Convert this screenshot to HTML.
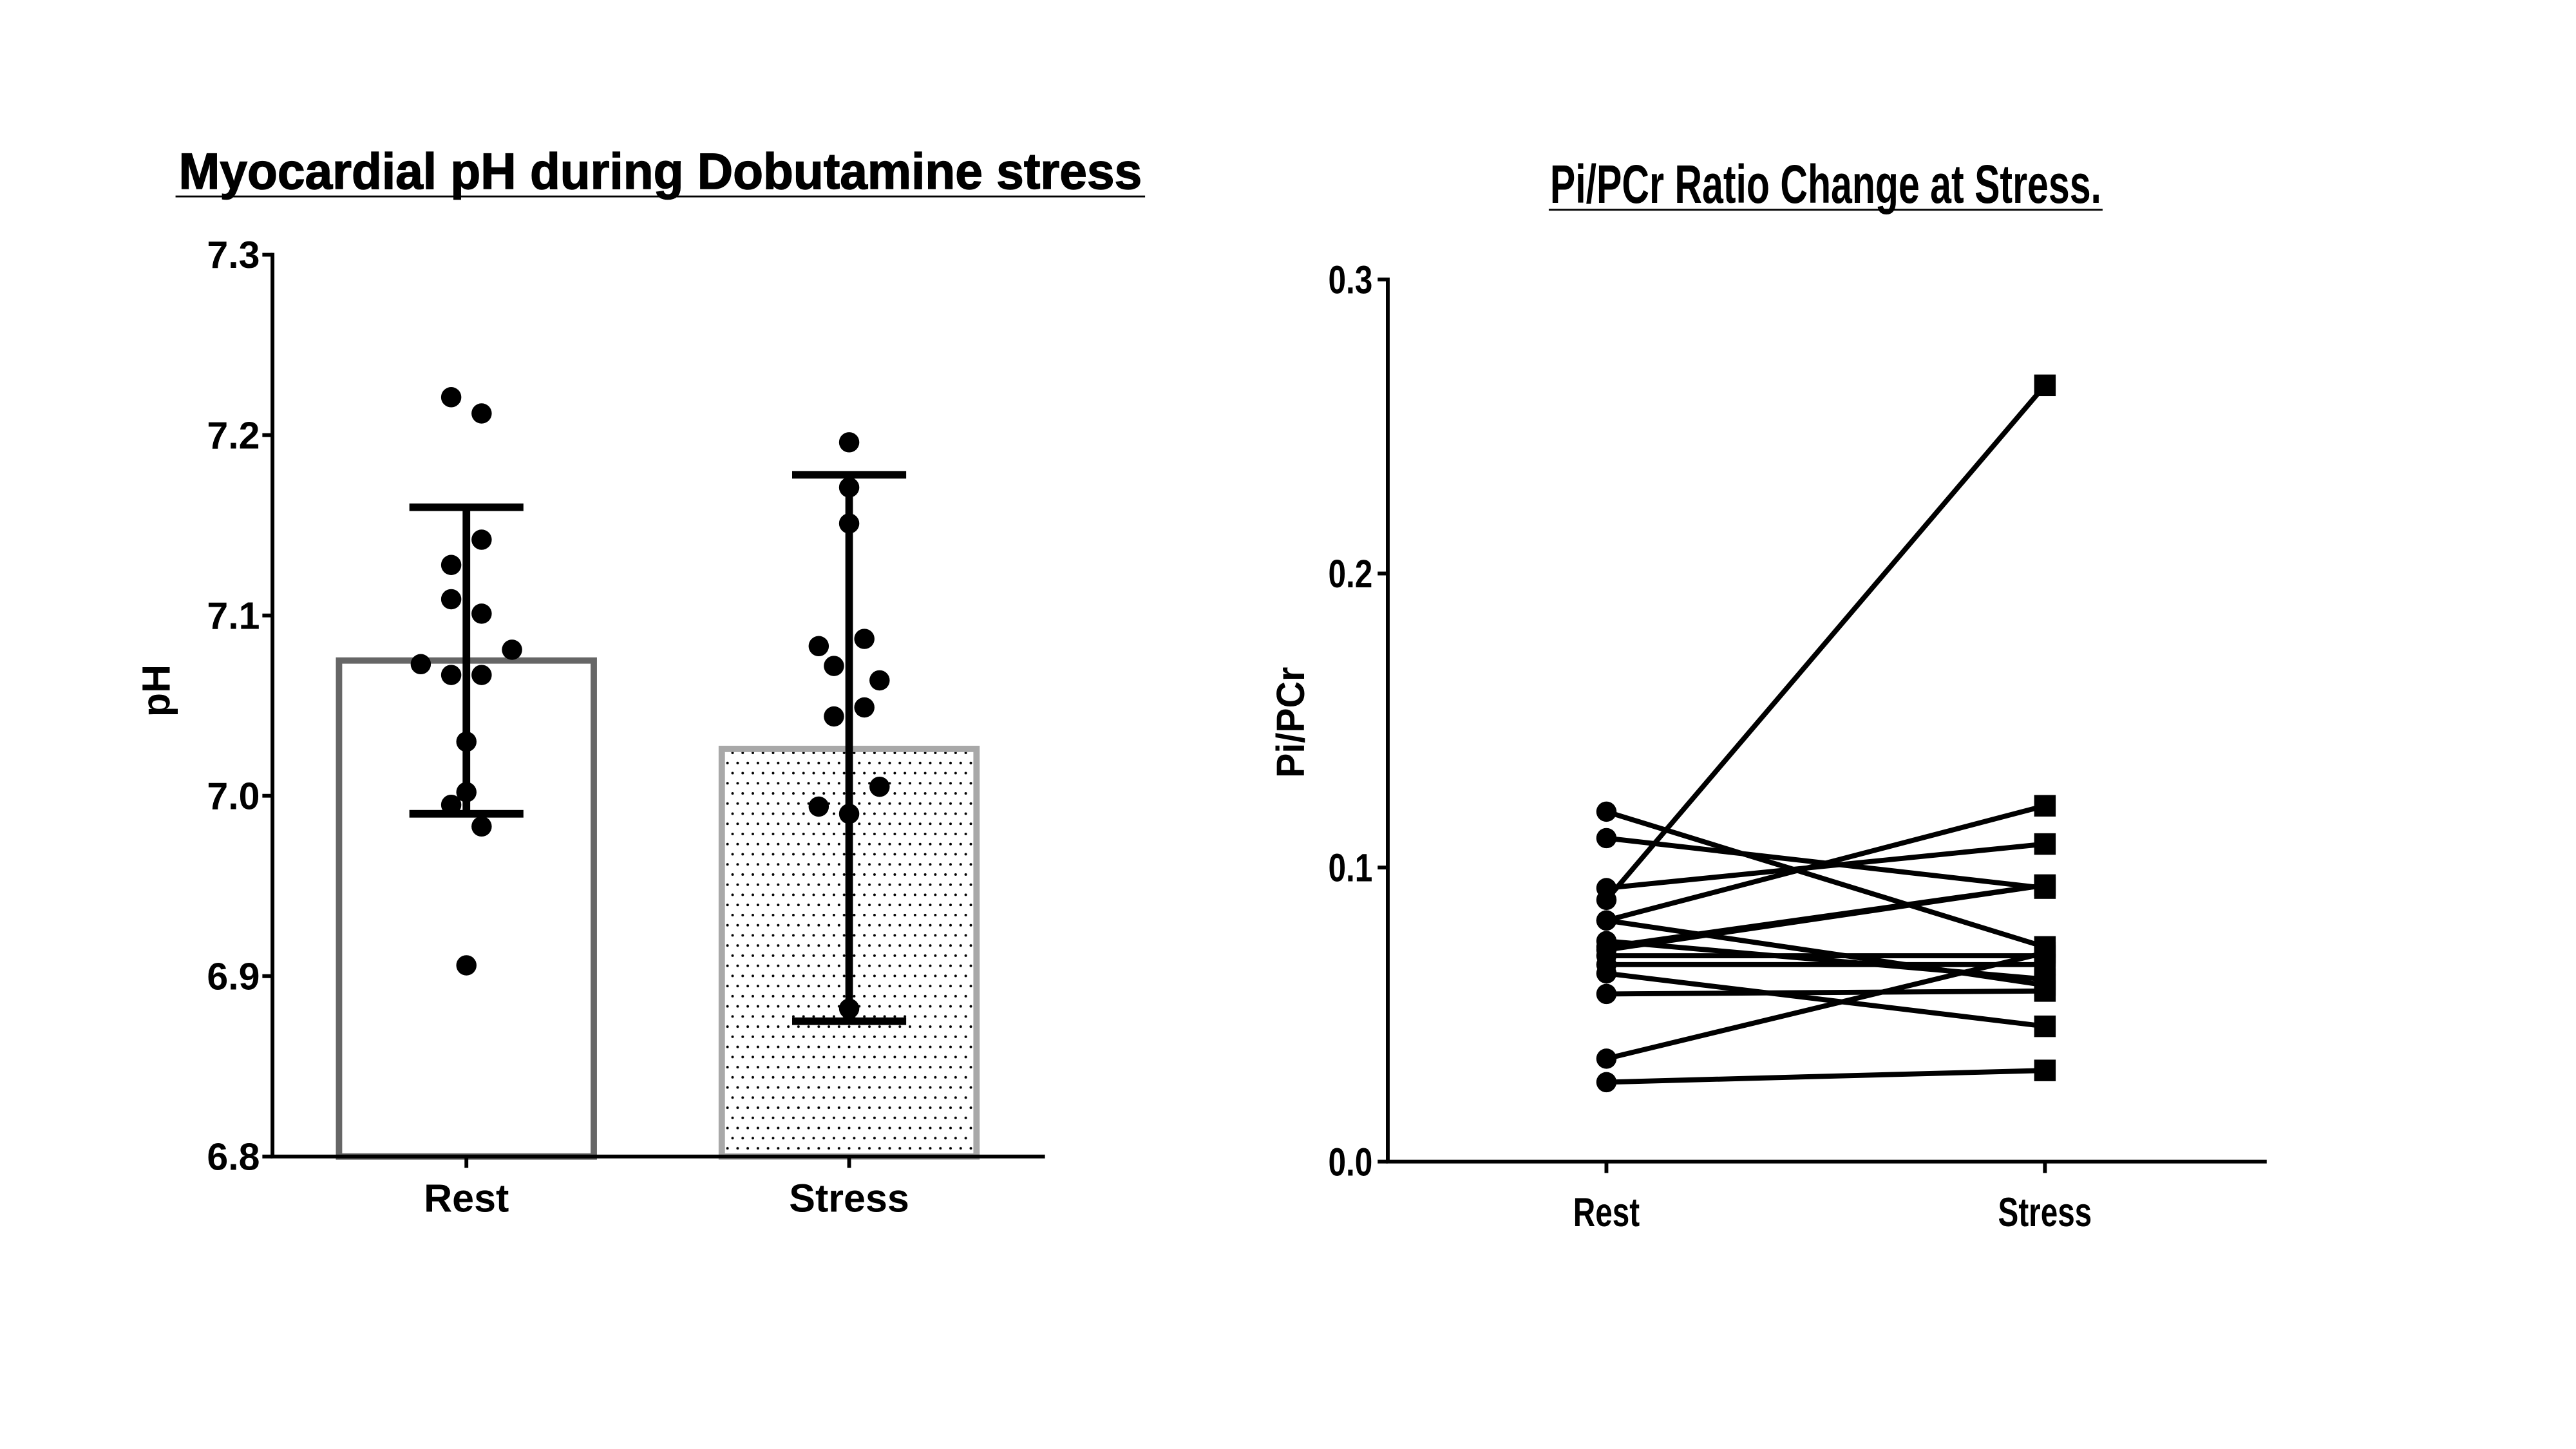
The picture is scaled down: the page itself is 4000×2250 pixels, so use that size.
<!DOCTYPE html>
<html><head><meta charset="utf-8"><style>
html,body{margin:0;padding:0;background:#fff;}
svg{display:block;}
text{font-family:"Liberation Sans",Arial,sans-serif;font-weight:bold;fill:#000;}
</style></head><body>
<svg id="chart" width="4000" height="2250" viewBox="0 0 4000 2250">
<defs>
<pattern id="dots" x="0" y="0" width="16" height="32" patternUnits="userSpaceOnUse">
<circle cx="4" cy="4" r="2" fill="#000"/><circle cx="12" cy="20" r="2" fill="#000"/>
</pattern>
</defs>
<g transform="scale(0.984)">
<g id="left"></g>
<g id="right"></g>
</g>
</svg>
<script>
// Left chart data
const phCategories = ["Rest", "Stress"];
const phMeans = [7.075, 7.026];
const phErrLow = [6.99, 6.875];
const phErrHigh = [7.16, 7.178];
const phTicks = ["6.8", "6.9", "7.0", "7.1", "7.2", "7.3"];
const restPH = [7.221, 7.212, 7.142, 7.128, 7.109, 7.101, 7.081, 7.073, 7.067, 7.067, 7.030, 7.002, 6.995, 6.983, 6.906];
const restJitter = [-1, 1, 1, -1, -1, 1, 3, -3, -1, 1, 0, 0, -1, 1, 0];
const stressPH = [7.196, 7.171, 7.151, 7.083, 7.087, 7.072, 7.064, 7.049, 7.044, 7.005, 6.994, 6.990, 6.882];
const stressJitter = [0, 0, 0, -2, 1, -1, 2, 1, -1, 2, -2, 0, 0];
// Right chart data
const piCategories = ["Rest", "Stress"];
const piTicks = ["0.0", "0.1", "0.2", "0.3"];
const piRest =   [0.089, 0.119, 0.110, 0.093, 0.082, 0.072, 0.073, 0.082, 0.070, 0.067, 0.064, 0.057, 0.035, 0.027, 0.075];
const piStress = [0.264, 0.073, 0.093, 0.108, 0.121, 0.094, 0.094, 0.060, 0.070, 0.067, 0.046, 0.058, 0.071, 0.031, 0.062];

const NS = "http://www.w3.org/2000/svg";
function mk(parent, tag, attrs) {
  const e = document.createElementNS(NS, tag);
  for (const k in attrs) e.setAttribute(k, attrs[k]);
  parent.appendChild(e);
  return e;
}

// ---------- LEFT ----------
const L = document.getElementById('left');
const lx0 = 430, ly0 = 1825, ly1 = 402, lxEnd = 1649;
const ly = v => ly0 - (v - 6.8) / 0.5 * (ly0 - ly1);
const lxc = [736, 1340];
const barHalf = 201;
const jitterStep = 24;

let t = mk(L, 'text', {x: 1042, y: 298, 'font-size': 80, 'text-anchor': 'middle', textLength: 1520, lengthAdjust: 'spacingAndGlyphs', stroke: '#000', 'stroke-width': 1.5});
t.textContent = "Myocardial pH during Dobutamine stress";


let u = mk(L, 'line', {x1: 277, x2: 1807, y1: 310, y2: 310, stroke: '#000', 'stroke-width': 3});



phMeans.forEach((m, i) => {
  const b = mk(L, 'rect', {x: lxc[i] - barHalf, y: ly(m), width: barHalf * 2, height: ly0 - ly(m),
    fill: i === 0 ? '#fff' : 'url(#dots)', stroke: i === 0 ? '#666' : '#a8a8a8', 'stroke-width': 10});
  
  
});
[restPH, stressPH].forEach((arr, i) => {
  const jit = i === 0 ? restJitter : stressJitter;
  arr.forEach((v, k) => {
    const c = mk(L, 'circle', {cx: lxc[i] + jit[k] * jitterStep, cy: ly(v), r: 16, fill: '#000'});
    
    
  });
});
phMeans.forEach((m, i) => {
  const g = mk(L, 'g', {stroke: '#000', 'stroke-width': 12});
  
  
  mk(g, 'line', {x1: lxc[i], x2: lxc[i], y1: ly(phErrHigh[i]), y2: ly(phErrLow[i])});
  mk(g, 'line', {x1: lxc[i] - 90, x2: lxc[i] + 90, y1: ly(phErrHigh[i]), y2: ly(phErrHigh[i])});
  mk(g, 'line', {x1: lxc[i] - 90, x2: lxc[i] + 90, y1: ly(phErrLow[i]), y2: ly(phErrLow[i])});
});
let ax = mk(L, 'path', {d: `M${lx0},${ly1 - 3} V${ly0} H${lxEnd}`, fill: 'none', stroke: '#000', 'stroke-width': 6});


phTicks.forEach(s => {
  const y = ly(parseFloat(s));
  mk(L, 'line', {x1: lx0 - 16, x2: lx0, y1: y, y2: y, stroke: '#000', 'stroke-width': 6});
  const tx = mk(L, 'text', {x: 410, y: y + 21, 'font-size': 60, 'text-anchor': 'end'});
  tx.textContent = s;
  
  
});
phCategories.forEach((c, i) => {
  mk(L, 'line', {x1: lxc[i], x2: lxc[i], y1: ly0, y2: ly0 + 18, stroke: '#000', 'stroke-width': 6});
  const tx = mk(L, 'text', {x: lxc[i], y: 1912, 'font-size': 62, 'text-anchor': 'middle'});
  tx.textContent = c;
  
  
});
t = mk(L, 'text', {x: 0, y: 0, 'font-size': 62, 'text-anchor': 'middle', transform: 'translate(268,1090) rotate(-90)'});
t.textContent = "pH";



// ---------- RIGHT ----------
const R = document.getElementById('right');
const rx0 = 2190, ry0 = 1833, ry1 = 441, rxEnd = 3577;
const ry = v => ry0 - v / 0.3 * (ry0 - ry1);
const rxc = [2535, 3227];

t = mk(R, 'text', {x: 2881, y: 320, 'font-size': 86, 'text-anchor': 'middle', textLength: 870, lengthAdjust: 'spacingAndGlyphs'});
t.textContent = "Pi/PCr Ratio Change at Stress.";


u = mk(R, 'line', {x1: 2444, x2: 3318, y1: 331, y2: 331, stroke: '#000', 'stroke-width': 3});



piRest.forEach((v, k) => {
  const ln = mk(R, 'line', {x1: rxc[0], y1: ry(v), x2: rxc[1], y2: ry(piStress[k]), stroke: '#000', 'stroke-width': 8});
  
  
});
piRest.forEach(v => {
  const c = mk(R, 'circle', {cx: rxc[0], cy: ry(v), r: 16, fill: '#000'});
  
  
});
piStress.forEach(v => {
  const s = mk(R, 'rect', {x: rxc[1] - 17, y: ry(v) - 17, width: 34, height: 34, fill: '#000'});
  
  
});
ax = mk(R, 'path', {d: `M${rx0},${ry1 - 3} V${ry0} H${rxEnd}`, fill: 'none', stroke: '#000', 'stroke-width': 6});


piTicks.forEach(s => {
  const y = ry(parseFloat(s));
  mk(R, 'line', {x1: rx0 - 16, x2: rx0, y1: y, y2: y, stroke: '#000', 'stroke-width': 6});
  const tx = mk(R, 'text', {x: 2166, y: y + 22, 'font-size': 62, 'text-anchor': 'end', textLength: 70, lengthAdjust: 'spacingAndGlyphs'});
  tx.textContent = s;
  
  
});
piCategories.forEach((c, i) => {
  mk(R, 'line', {x1: rxc[i], x2: rxc[i], y1: ry0, y2: ry0 + 18, stroke: '#000', 'stroke-width': 6});
  const tx = mk(R, 'text', {x: rxc[i], y: 1935, 'font-size': 64, 'text-anchor': 'middle', textLength: i === 0 ? 105 : 148, lengthAdjust: 'spacingAndGlyphs'});
  tx.textContent = c;
  
  
});
t = mk(R, 'text', {x: 0, y: 0, 'font-size': 62, 'text-anchor': 'middle', transform: 'translate(2058,1140) rotate(-90)', textLength: 175, lengthAdjust: 'spacingAndGlyphs'});
t.textContent = "Pi/PCr";


</script>
</body></html>
